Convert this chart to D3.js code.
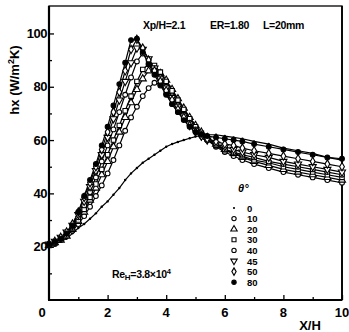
<!DOCTYPE html>
<html>
<head>
<meta charset="utf-8">
<script src="https://cdn.jsdelivr.net/npm/d3@7"></script>
<style>
  body { margin: 0; background: #fff; }
  svg { display: block; font-family: "Liberation Sans", Arial, sans-serif; }
</style>
</head>
<body>
<svg id="chart" width="349" height="332"></svg>
<script>
// x/H positions of the measuring points
const xPos = [0, 0.2, 0.4, 0.6, 0.8, 1.0, 1.2, 1.4, 1.6, 1.8, 2.0, 2.2, 2.4, 2.6, 2.8, 3.0, 3.2, 3.4, 3.6, 3.8,
  4.0, 4.2, 4.4, 4.6, 4.8, 5.0, 5.2, 5.4, 5.7, 6.0, 6.3, 6.6, 7.0, 7.5, 8.0, 8.5, 9.0, 9.5, 10.0];

// hx values (W/m2K) for each rib angle
const h0 = [20.5, 21, 22, 23, 25, 27, 28.5, 30.5, 32.5, 35, 37, 39.5, 42, 45, 47.5, 49.5, 51.5, 53, 54.5, 56,
  57.5, 58.5, 59.3, 60, 60.7, 61.3, 61.8, 62, 62, 61.5, 61, 60.5, 59.5, 58.5, 57, 56, 55, 53.5, 52.5];
const h10 = [20.5, 21, 22.5, 24, 26, 28.5, 31.5, 35, 39, 43, 47.5, 52.5, 58, 63.5, 68.5, 72.5, 76.5, 79.5, 81.5, 81,
  77.5, 73.5, 70.5, 68, 65.5, 63.5, 61.5, 60, 57.5, 55.5, 54, 52.5, 51, 49.5, 48, 47, 46, 45, 44];
const h20 = [20.5, 21.5, 22.5, 24, 26.5, 29.5, 33, 37.5, 42, 47, 52, 57.5, 63, 68.5, 74, 79, 83, 86, 86.5, 85,
  82.5, 79, 75.5, 72, 68.5, 65.5, 63, 61, 58.5, 56.5, 55, 53.5, 52, 50.5, 49, 48, 47, 46, 45];
const h30 = [20.5, 21.5, 23, 24.5, 27, 30, 34, 38.5, 43.5, 49, 54.5, 60, 65.5, 71, 76.5, 82, 86.5, 88.5, 88, 85.5,
  82, 78.5, 75, 71.5, 68, 65, 62.5, 60.5, 58, 56, 55, 54, 52.5, 51.5, 50, 49, 48, 47, 46];
const h40 = [20.5, 21.5, 23, 25, 27.5, 31, 35.5, 40.5, 46, 52, 58, 64, 70.5, 77, 83.5, 89.5, 92.5, 90, 87, 83.5,
  80, 76.5, 73, 69.5, 66.5, 64, 62, 60, 58, 56.5, 55.5, 54.5, 53.5, 52, 51, 50, 49, 48, 47];
const h45 = [21, 22, 23.5, 25.5, 28, 32, 37, 42.5, 48.5, 54.5, 61, 68, 75, 82, 89, 94.5, 94, 90.5, 87, 83,
  79.5, 76, 72.5, 69, 66, 63.5, 61.5, 60, 58.5, 57.5, 56.5, 55.5, 54.5, 53.5, 52, 51, 50, 49, 48];
const h50 = [21, 22, 23.5, 25.5, 28.5, 33, 38.5, 44, 50, 56.5, 63, 70.5, 78, 86, 94, 97.8, 94.5, 90, 86, 82,
  78.5, 75, 71.5, 68.5, 65.5, 63, 61.5, 60.5, 59.5, 58.5, 58, 57, 56, 55, 54, 53, 52, 51, 50];
const h80 = [21, 22, 23, 25, 28, 33, 39, 45, 51, 58, 65, 73, 81, 89, 97.5, 98, 93, 88.5, 84.5, 80.5,
  77, 73.5, 70.5, 67.5, 65, 63, 62, 61.5, 61, 60.5, 60, 59.5, 58.5, 57.5, 56.5, 55.5, 54.5, 53.5, 53];

const angleLabels = ["0", "10", "20", "30", "40", "45", "50", "80"];
const markerKinds = ["dot", "circle", "triangle", "square", "circle", "down", "diamond", "filled"];
const seriesValues = [h0, h10, h20, h30, h40, h45, h50, h80];

const xTicks = [0, 2, 4, 6, 8, 10];
const xMinor = [1, 3, 5, 7, 9];
const yTicks = [20, 40, 60, 80, 100];
const yMinor = [10, 30, 50, 70, 90];

const svg = d3.select("#chart");
const plotLeft = 49, plotRight = 342, plotTop = 6, plotBottom = 300;

const x = d3.scaleLinear().domain([0, 10]).range([plotLeft, plotRight]);
const y = d3.scaleLinear().domain([0, 110.3]).range([plotBottom, plotTop]);

// frame
svg.append("rect")
  .attr("x", plotLeft).attr("y", plotTop)
  .attr("width", plotRight - plotLeft).attr("height", plotBottom - plotTop)
  .attr("fill", "none").attr("stroke", "#000").attr("stroke-width", 1.3);
svg.append("line").attr("x1", plotLeft).attr("x2", plotLeft).attr("y1", plotTop).attr("y2", plotBottom)
  .attr("stroke", "#000").attr("stroke-width", 2.2);
svg.append("line").attr("x1", plotLeft - 1).attr("x2", plotRight).attr("y1", plotBottom).attr("y2", plotBottom)
  .attr("stroke", "#000").attr("stroke-width", 2.2);
svg.append("line").attr("x1", plotRight).attr("x2", plotRight).attr("y1", plotTop).attr("y2", plotBottom)
  .attr("stroke", "#000").attr("stroke-width", 1.8);

// axes with inward ticks
const xAxis = svg.append("g").attr("transform", `translate(0,${plotBottom})`)
  .call(d3.axisTop(x).tickValues(xTicks.slice(1)).tickSize(5).tickFormat(""));
const xAxisMinor = svg.append("g").attr("transform", `translate(0,${plotBottom})`)
  .call(d3.axisTop(x).tickValues(xMinor).tickSize(3).tickFormat(""));
const yAxis = svg.append("g").attr("transform", `translate(${plotLeft},0)`)
  .call(d3.axisRight(y).tickValues(yTicks).tickSize(5).tickFormat(""));
const yAxisMinor = svg.append("g").attr("transform", `translate(${plotLeft},0)`)
  .call(d3.axisRight(y).tickValues(yMinor).tickSize(3).tickFormat(""));
[xAxis, xAxisMinor, yAxis, yAxisMinor].forEach(g => {
  g.select(".domain").remove();
  g.selectAll("line").attr("stroke", "#000").attr("stroke-width", 1.3);
});

// tick labels
svg.append("g").selectAll("text").data(xTicks.slice(1)).join("text")
  .attr("x", d => x(d)).attr("y", 317)
  .attr("text-anchor", "middle")
  .attr("font-size", 13).attr("font-weight", "bold")
  .text(d => d);
svg.append("text").attr("x", 42).attr("y", 317)
  .attr("text-anchor", "middle").attr("font-size", 13).attr("font-weight", "bold")
  .text("0");
svg.append("g").selectAll("text").data(yTicks).join("text")
  .attr("x", 47).attr("y", d => y(d) + 4.5)
  .attr("text-anchor", "end")
  .attr("font-size", 13).attr("font-weight", "bold")
  .attr("letter-spacing", -0.5)
  .text(d => d);

// axis titles
const yTitle = svg.append("text")
  .attr("transform", "translate(19,80) rotate(-90)")
  .attr("text-anchor", "middle")
  .attr("font-size", 13).attr("font-weight", "bold");
yTitle.append("tspan").text("hx (W/m");
yTitle.append("tspan").attr("dy", -5).attr("font-size", 9).text("2");
yTitle.append("tspan").attr("dy", 5).text("K)");

svg.append("text").attr("x", 310).attr("y", 330)
  .attr("text-anchor", "middle").attr("font-size", 13).attr("font-weight", "bold")
  .text("X/H");

// annotations
const notes = [
  { t: "Xp/H=2.1", x: 143 },
  { t: "ER=1.80", x: 210 },
  { t: "L=20mm", x: 263 }
];
svg.append("g").selectAll("text").data(notes).join("text")
  .attr("x", d => d.x).attr("y", 29)
  .attr("font-size", 10.5).attr("font-weight", "bold")
  .attr("letter-spacing", -0.3)
  .text(d => d.t);

const re = svg.append("text").attr("x", 112).attr("y", 278)
  .attr("font-size", 10.5).attr("font-weight", "bold").attr("letter-spacing", -0.3);
re.append("tspan").text("Re");
re.append("tspan").attr("dy", 2).attr("font-size", 8).text("H");
re.append("tspan").attr("dy", -2).text("=3.8×10");
re.append("tspan").attr("dy", -4).attr("font-size", 7.5).text("4");

// curves
const line = d3.line().x((d, i) => x(xPos[i])).y(d => y(d));
svg.append("g").selectAll("path").data(seriesValues).join("path")
  .attr("d", d => line(d))
  .attr("fill", "none").attr("stroke", "#000").attr("stroke-width", 1.2);

function marker(g, kind, scale) {
  const s = scale || 1;
  let path;
  if (kind === "dot") {
    g.append("circle").attr("r", 1.2 * s).attr("fill", "#000");
    return;
  }
  if (kind === "circle" || kind === "filled") {
    g.append("circle").attr("r", 2.4 * s)
      .attr("fill", kind === "filled" ? "#000" : "#fff")
      .attr("stroke", "#000").attr("stroke-width", 1.1);
    return;
  }
  if (kind === "triangle" || kind === "down") path = d3.symbol(d3.symbolTriangle, 22 * s * s)();
  if (kind === "square") path = d3.symbol(d3.symbolSquare, 20 * s * s)();
  if (kind === "diamond") path = d3.symbol(d3.symbolDiamond, 20 * s * s)();
  g.append("path").attr("d", path)
    .attr("transform", kind === "down" ? "rotate(180)" : null)
    .attr("fill", "#fff").attr("stroke", "#000").attr("stroke-width", 1.1);
}

seriesValues.forEach((vals, k) => {
  const grp = svg.append("g");
  vals.forEach((v, i) => {
    const m = grp.append("g").attr("transform", `translate(${x(xPos[i])},${y(v)})`);
    marker(m, markerKinds[k]);
  });
});

// legend
const legendTop = 208, legendStep = 10.6;
svg.append("text").attr("x", 238).attr("y", 192)
  .attr("font-size", 11).attr("font-weight", "bold").attr("font-style", "italic")
  .text("θ°");
angleLabels.forEach((lab, k) => {
  const yy = legendTop + k * legendStep;
  const m = svg.append("g").attr("transform", `translate(234,${yy})`);
  marker(m, markerKinds[k], 0.9);
  svg.append("text").attr("x", 247).attr("y", yy + 3.6)
    .attr("font-size", 9.5).attr("font-weight", "bold")
    .text(lab);
});
</script>
</body>
</html>
